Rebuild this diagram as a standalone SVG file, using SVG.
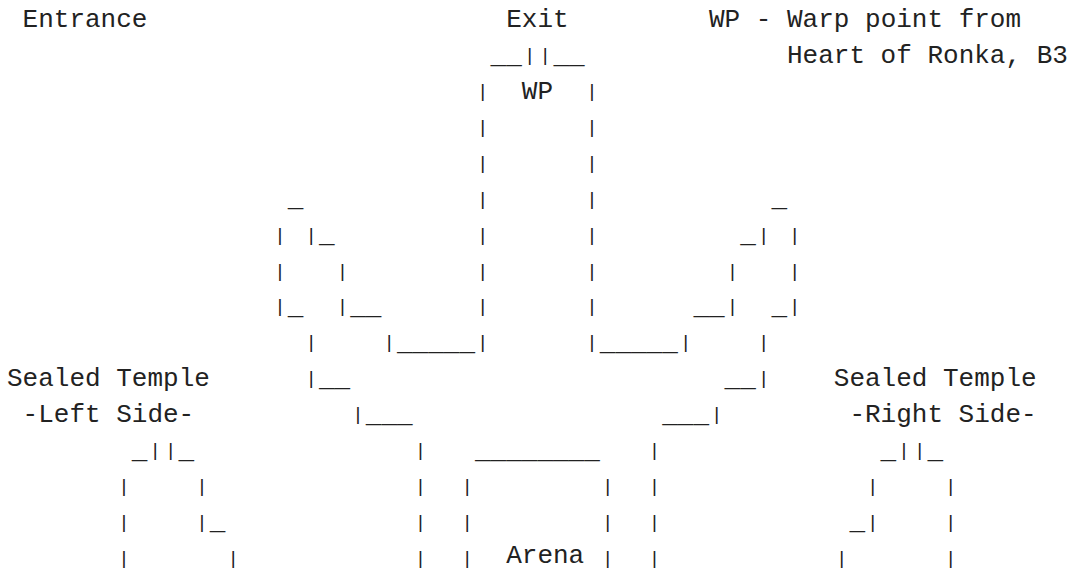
<svg xmlns="http://www.w3.org/2000/svg" width="1073" height="571" viewBox="0 0 1073 571" xml:space="preserve">
<style>
text{font-family:"Courier New","Liberation Mono","DejaVu Sans Mono",monospace;font-size:26px;fill:#222;white-space:pre}
text.b{font-size:19px}
</style>
<rect width="1073" height="571" fill="#fff"/>
<g id="labels">
<text x="22.6" y="26.7">Entrance</text>
<text x="506.2" y="26.7">Exit</text>
<text x="709" y="26.7">WP - Warp point from</text>
<text x="787" y="62.6">Heart of Ronka, B3</text>
<text x="7" y="385.7">Sealed Temple</text>
<text x="22.6" y="421.6">-Left Side-</text>
<text x="833.8" y="385.7">Sealed Temple</text>
<text x="849.4" y="421.6">-Right Side-</text>
</g>
<g id="exit-corridor">
<text x="490.6" y="62.6">__</text><text class="b" x="523.9" y="61.1">|</text><text class="b" x="539.5" y="61.1">|</text><text x="553.4" y="62.6">__</text>
<text class="b" x="477.1" y="97">|</text><text x="521.8" y="98.5">WP</text><text class="b" x="586.3" y="97">|</text>
<text class="b" x="477.1" y="132.9">|</text><text class="b" x="586.3" y="132.9">|</text>
<text class="b" x="477.1" y="168.8">|</text><text class="b" x="586.3" y="168.8">|</text>
<text class="b" x="477.1" y="204.7">|</text><text class="b" x="586.3" y="204.7">|</text>
<text class="b" x="477.1" y="240.6">|</text><text class="b" x="586.3" y="240.6">|</text>
<text class="b" x="477.1" y="276.5">|</text><text class="b" x="586.3" y="276.5">|</text>
<text class="b" x="477.1" y="312.4">|</text><text class="b" x="586.3" y="312.4">|</text>
<text class="b" x="383.5" y="348.3">|</text><text x="397" y="349.8">_____</text><text class="b" x="477.1" y="348.3">|</text>
<text class="b" x="586.3" y="348.3">|</text><text x="599.8" y="349.8">_____</text><text class="b" x="679.9" y="348.3">|</text>
</g>
<g id="left-wing">
<text x="287.8" y="206.2">_</text>
<text class="b" x="274.3" y="240.6">|</text><text class="b" x="305.5" y="240.6">|</text><text x="319" y="242.1">_</text>
<text class="b" x="274.3" y="276.5">|</text><text class="b" x="336.7" y="276.5">|</text>
<text class="b" x="274.3" y="312.4">|</text><text x="287.8" y="313.9">_</text><text class="b" x="336.7" y="312.4">|</text><text x="350.2" y="313.9">__</text>
<text class="b" x="305.5" y="348.3">|</text>
<text class="b" x="305.5" y="384.2">|</text><text x="319" y="385.7">__</text>
<text class="b" x="352.3" y="420.1">|</text><text x="365.8" y="421.6">___</text>
<text class="b" x="414.7" y="456">|</text>
<text class="b" x="414.7" y="491.9">|</text>
<text class="b" x="414.7" y="527.8">|</text>
<text class="b" x="414.7" y="563.7">|</text>
</g>
<g id="right-wing">
<text x="771.4" y="206.2">_</text>
<text x="740.2" y="242.1">_</text><text class="b" x="757.9" y="240.6">|</text><text class="b" x="789.1" y="240.6">|</text>
<text class="b" x="726.7" y="276.5">|</text><text class="b" x="789.1" y="276.5">|</text>
<text x="693.4" y="313.9">__</text><text class="b" x="726.7" y="312.4">|</text><text x="771.4" y="313.9">_</text><text class="b" x="789.1" y="312.4">|</text>
<text class="b" x="757.9" y="348.3">|</text>
<text x="724.6" y="385.7">__</text><text class="b" x="757.9" y="384.2">|</text>
<text x="662.2" y="421.6">___</text><text class="b" x="711.1" y="420.1">|</text>
<text class="b" x="648.7" y="456">|</text>
<text class="b" x="648.7" y="491.9">|</text>
<text class="b" x="648.7" y="527.8">|</text>
<text class="b" x="648.7" y="563.7">|</text>
</g>
<g id="arena">
<text x="475" y="457.5">________</text>
<text class="b" x="461.5" y="491.9">|</text><text class="b" x="601.9" y="491.9">|</text>
<text class="b" x="461.5" y="527.8">|</text><text class="b" x="601.9" y="527.8">|</text>
<text class="b" x="461.5" y="563.7">|</text><text x="506.2" y="563.4">Arena</text><text class="b" x="601.9" y="563.7">|</text>
</g>
<g id="left-temple">
<text x="131.8" y="457.5">_</text><text class="b" x="149.5" y="456">|</text><text class="b" x="165.1" y="456">|</text><text x="178.6" y="457.5">_</text>
<text class="b" x="118.3" y="491.9">|</text><text class="b" x="196.3" y="491.9">|</text>
<text class="b" x="118.3" y="527.8">|</text><text class="b" x="196.3" y="527.8">|</text><text x="209.8" y="529.3">_</text>
<text class="b" x="118.3" y="563.7">|</text><text class="b" x="227.5" y="563.7">|</text>
</g>
<g id="right-temple">
<text x="880.6" y="457.5">_</text><text class="b" x="898.3" y="456">|</text><text class="b" x="913.9" y="456">|</text><text x="927.4" y="457.5">_</text>
<text class="b" x="867.1" y="491.9">|</text><text class="b" x="945.1" y="491.9">|</text>
<text x="849.4" y="529.3">_</text><text class="b" x="867.1" y="527.8">|</text><text class="b" x="945.1" y="527.8">|</text>
<text class="b" x="835.9" y="563.7">|</text><text class="b" x="945.1" y="563.7">|</text>
</g>
</svg>
